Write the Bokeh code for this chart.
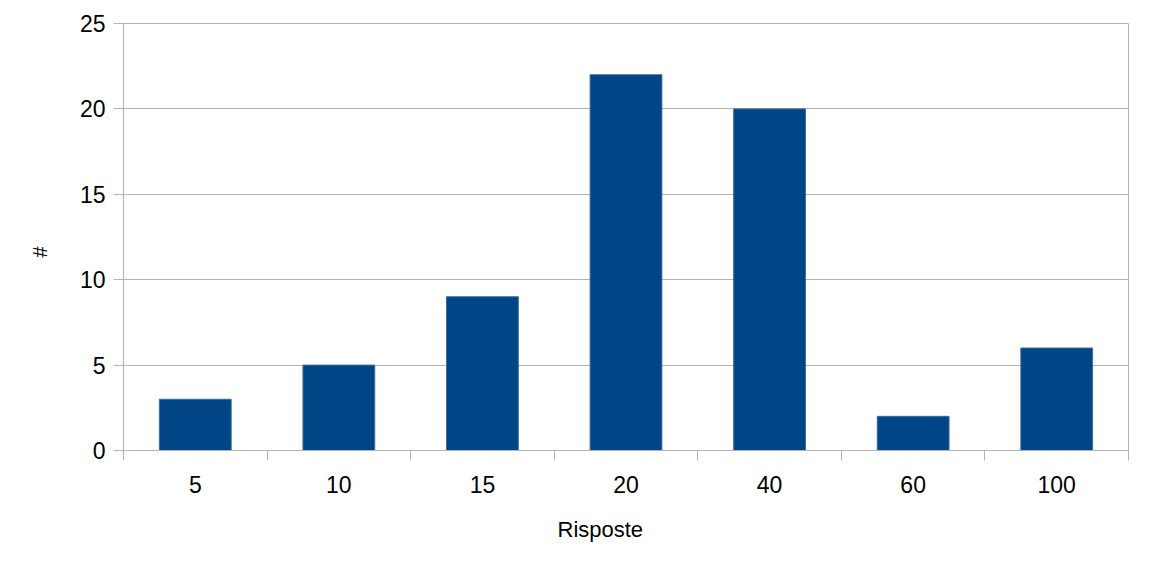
from bokeh.plotting import figure
from bokeh.models import ColumnDataSource, FixedTicker, Range1d, Title
from bokeh.embed import file_html
from bokeh.resources import INLINE

categories = ["5", "10", "15", "20", "40", "60", "100"]
counts = [3, 5, 9, 22, 20, 2, 6]
y_ticks = [0, 5, 10, 15, 20, 25]

FONT = "Liberation Sans"
GRID = "#b3b3b3"
BAR = "#004586"

n = len(categories)
centers = [i + 0.5 for i in range(n)]
bounds = list(range(n + 1))

src = ColumnDataSource(dict(x=centers, top=counts, cat=categories))

p = figure(width=1141, height=561, output_backend="svg", toolbar_location=None,
           x_range=Range1d(0, n), y_range=Range1d(0, 25),
           min_border_left=123, min_border_right=13, min_border_top=23, min_border_bottom=111)
p.background_fill_color = "white"
p.border_fill_color = "white"
p.outline_line_color = GRID
p.outline_line_width = 1

p.vbar(x="x", top="top", width=0.5, bottom=0, source=src,
       fill_color=BAR, line_color="#3d6c9f", line_width=1)

# y axis
ya = p.yaxis[0]
ya.ticker = FixedTicker(ticks=y_ticks)
ya.axis_line_color = GRID
ya.major_tick_line_color = GRID
ya.major_tick_out = 10
ya.major_tick_in = 0
ya.minor_tick_line_color = None
ya.major_label_standoff = 8
ya.major_label_text_font = FONT
ya.major_label_text_font_size = "23px"
ya.major_label_text_color = "black"

# x axis: labels at centers, tick marks at category boundaries
xa = p.xaxis[0]
xa.ticker = FixedTicker(ticks=centers, minor_ticks=bounds)
xa.major_label_overrides = {c: lab for c, lab in zip(centers, categories)}
xa.axis_line_color = GRID
xa.major_tick_line_color = None
xa.major_tick_out = 0
xa.major_tick_in = 0
xa.minor_tick_line_color = GRID
xa.minor_tick_out = 10
xa.minor_tick_in = 0
xa.major_label_standoff = 15
xa.major_label_text_font = FONT
xa.major_label_text_font_size = "23px"
xa.major_label_text_color = "black"

p.xgrid.grid_line_color = None
p.ygrid.grid_line_color = GRID
p.ygrid.ticker = FixedTicker(ticks=y_ticks)

p.add_layout(Title(text="Risposte", align="left", offset=434, standoff=39,
                   text_font=FONT, text_font_size="22px", text_font_style="normal",
                   text_color="black"), "below")
p.add_layout(Title(text="#", align="left", offset=193, standoff=52,
                   text_font=FONT, text_font_size="20px", text_font_style="normal",
                   text_color="black"), "left")

open("out.html", "w").write(file_html(p, INLINE))
